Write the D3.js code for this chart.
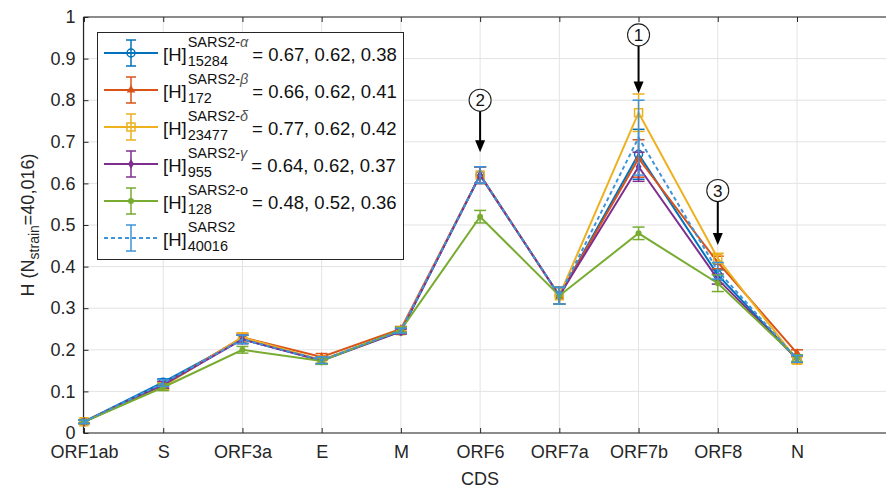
<!DOCTYPE html>
<html>
<head>
<meta charset="utf-8">
<script src="https://cdn.jsdelivr.net/npm/d3@7"></script>
<style>
  body { margin: 0; background: #fff; }
  svg { display: block; font-family: "Liberation Sans", Arial, sans-serif; }
</style>
</head>
<body>
<div id="chart"></div>
<script>
// coding sequences on the x axis
var cds = ['ORF1ab', 'S', 'ORF3a', 'E', 'M', 'ORF6', 'ORF7a', 'ORF7b', 'ORF8', 'N'];
var yTicks = [0, 0.1, 0.2, 0.3, 0.4, 0.5, 0.6, 0.7, 0.8, 0.9, 1];

// mean entropy per strain
var hAlpha   = [0.027, 0.122, 0.225, 0.175, 0.245, 0.62, 0.33, 0.67, 0.38, 0.178];
var hBeta    = [0.027, 0.115, 0.230, 0.183, 0.250, 0.62, 0.33, 0.66, 0.41, 0.192];
var hDelta   = [0.027, 0.112, 0.230, 0.175, 0.246, 0.62, 0.33, 0.77, 0.42, 0.175];
var hGamma   = [0.027, 0.116, 0.225, 0.174, 0.244, 0.62, 0.33, 0.64, 0.37, 0.178];
var hOmicron = [0.027, 0.110, 0.200, 0.173, 0.248, 0.52, 0.33, 0.48, 0.36, 0.180];
var hAll     = [0.027, 0.120, 0.225, 0.175, 0.246, 0.62, 0.33, 0.71, 0.39, 0.178];

// error bar half widths
var eAlpha   = [0.004, 0.008, 0.010, 0.008, 0.006, 0.02, 0.02, 0.060, 0.012, 0.008];
var eBeta    = [0.004, 0.008, 0.010, 0.008, 0.006, 0.02, 0.02, 0.045, 0.015, 0.008];
var eDelta   = [0.004, 0.008, 0.010, 0.008, 0.006, 0.02, 0.02, 0.045, 0.012, 0.008];
var eGamma   = [0.004, 0.008, 0.010, 0.008, 0.006, 0.02, 0.02, 0.035, 0.012, 0.008];
var eOmicron = [0.004, 0.008, 0.008, 0.008, 0.006, 0.015, 0.02, 0.015, 0.020, 0.008];
var eAll     = [0.004, 0.008, 0.010, 0.008, 0.006, 0.02, 0.02, 0.090, 0.020, 0.008];

var seriesNames = ['SARS2-α', 'SARS2-β', 'SARS2-δ', 'SARS2-γ', 'SARS2-o', 'SARS2'];
var seriesN = ['15284', '172', '23477', '955', '128', '40016'];
var seriesNote = ['= 0.67, 0.62, 0.38', '= 0.66, 0.62, 0.41', '= 0.77, 0.62, 0.42',
                  '= 0.64, 0.62, 0.37', '= 0.48, 0.52, 0.36', ''];
var seriesColor = ['#0072BD', '#D95319', '#EDB120', '#7E2F8E', '#77AC30', '#3D94DA'];
var seriesMarker = ['circle', 'triangle', 'square', 'diamond', 'dot', 'none'];

// numbered call-outs: which CDS they point at
var callouts = [
  { label: '1', cds: 'ORF7b', top: 0.957, tip: 0.816 },
  { label: '2', cds: 'ORF6', top: 0.80, tip: 0.675 },
  { label: '3', cds: 'ORF8', top: 0.583, tip: 0.452 }
];

(function() {
  var values = [hAlpha, hBeta, hDelta, hGamma, hOmicron, hAll];
  var errors = [eAlpha, eBeta, eDelta, eGamma, eOmicron, eAll];
  var series = seriesNames.map((name, i) => ({
    name: name, n: seriesN[i], note: seriesNote[i], color: seriesColor[i],
    marker: seriesMarker[i], dashed: i === 5,
    points: cds.map((c, j) => ({ cds: c, v: values[i][j], e: errors[i][j] }))
  }));

  var width = 886, height = 488;
  var pLeft = 84, pRight = 892, pTop = 17, pBottom = 433;

  var svg = d3.select('#chart').append('svg')
    .attr('width', width).attr('height', height);

  var x = d3.scalePoint().domain(cds).range([pLeft, 797]);
  var y = d3.scaleLinear().domain([0, 1]).range([pBottom, pTop]);

  // grid
  var grid = svg.append('g').attr('stroke', '#e3e3e3').attr('stroke-width', 1);
  grid.selectAll('.gx').data(cds).enter().append('line')
    .attr('x1', d => x(d)).attr('x2', d => x(d))
    .attr('y1', pTop).attr('y2', pBottom);
  grid.selectAll('.gy').data(yTicks).enter().append('line')
    .attr('x1', pLeft).attr('x2', pRight)
    .attr('y1', d => y(d)).attr('y2', d => y(d));

  // axes
  var axisColor = '#262626';
  var xAxis = svg.append('g').attr('transform', `translate(0,${pBottom})`)
    .call(d3.axisBottom(x).tickSizeInner(-5).tickSizeOuter(0).tickPadding(12));
  var xTop = svg.append('g').attr('transform', `translate(0,${pTop})`)
    .call(d3.axisTop(x).tickSizeInner(-5).tickSizeOuter(0).tickFormat(''));
  var yAxis = svg.append('g').attr('transform', `translate(${pLeft - 0.5},0)`)
    .call(d3.axisLeft(y).tickValues(yTicks).tickSizeInner(-5).tickSizeOuter(0).tickPadding(8)
      .tickFormat(d => d === 0 || d === 1 ? d3.format('d')(d) : d3.format('.1f')(d)));

  [xAxis, xTop, yAxis].forEach(g => {
    g.select('.domain').remove();
    g.selectAll('line').attr('stroke', axisColor);
    g.selectAll('text').attr('fill', axisColor).style('font-size', '18px')
      .style('font-family', '"Liberation Sans", Arial, sans-serif');
  });
  xAxis.selectAll('text').attr('dy', '0.71em');

  svg.append('line').attr('x1', pLeft - 0.5).attr('x2', pRight).attr('y1', pBottom).attr('y2', pBottom)
    .attr('stroke', axisColor).attr('stroke-width', 1.2);
  svg.append('line').attr('x1', pLeft - 0.5).attr('x2', pRight).attr('y1', pTop).attr('y2', pTop)
    .attr('stroke', axisColor).attr('stroke-width', 1.2);
  svg.append('line').attr('x1', pLeft - 0.5).attr('x2', pLeft - 0.5).attr('y1', pTop).attr('y2', pBottom)
    .attr('stroke', axisColor).attr('stroke-width', 1.2);

  // axis titles
  svg.append('text').attr('x', x('ORF6')).attr('y', 485)
    .attr('text-anchor', 'middle').attr('fill', axisColor).style('font-size', '18px').text('CDS');

  var yl = svg.append('text').attr('transform', `translate(34,${(pTop + pBottom) / 2}) rotate(-90)`)
    .attr('text-anchor', 'middle').attr('fill', axisColor).style('font-size', '18px');
  yl.append('tspan').text('H  (N');
  yl.append('tspan').attr('dy', 5).style('font-size', '14px').text('strain');
  yl.append('tspan').attr('dy', -5).text('=40,016)');

  // markers
  function drawMarker(g, type, color) {
    if (type === 'circle') {
      g.append('circle').attr('r', 4).attr('fill', 'none').attr('stroke', color).attr('stroke-width', 1.5);
    } else if (type === 'square') {
      g.append('rect').attr('x', -4).attr('y', -4).attr('width', 8).attr('height', 8)
        .attr('fill', 'none').attr('stroke', color).attr('stroke-width', 1.5);
    } else if (type === 'triangle') {
      g.append('path').attr('d', d3.symbol(d3.symbolTriangle, 32)()).attr('fill', color);
    } else if (type === 'diamond') {
      g.append('path').attr('d', d3.symbol(d3.symbolDiamond, 30)()).attr('fill', color);
    } else if (type === 'dot') {
      g.append('circle').attr('r', 3).attr('fill', color);
    }
  }

  // lines, error bars, markers
  var line = d3.line().x(d => x(d.cds)).y(d => y(d.v));
  var cap = 6;
  series.forEach(s => {
    var g = svg.append('g');
    g.append('path').datum(s.points).attr('d', line)
      .attr('fill', 'none').attr('stroke', s.color).attr('stroke-width', 2)
      .attr('stroke-dasharray', s.dashed ? '4,3' : null);
    var eb = g.selectAll('.eb').data(s.points).enter().append('g')
      .attr('stroke', s.color).attr('stroke-width', 1.5);
    eb.append('line').attr('x1', d => x(d.cds)).attr('x2', d => x(d.cds))
      .attr('y1', d => y(d.v - d.e)).attr('y2', d => y(d.v + d.e));
    eb.append('line').attr('x1', d => x(d.cds) - cap).attr('x2', d => x(d.cds) + cap)
      .attr('y1', d => y(d.v - d.e)).attr('y2', d => y(d.v - d.e));
    eb.append('line').attr('x1', d => x(d.cds) - cap).attr('x2', d => x(d.cds) + cap)
      .attr('y1', d => y(d.v + d.e)).attr('y2', d => y(d.v + d.e));
    s.points.forEach(p => {
      var m = g.append('g').attr('transform', `translate(${x(p.cds)},${y(p.v)})`);
      drawMarker(m, s.marker, s.color);
    });
  });

  // call-outs
  callouts.forEach(c => {
    var cx = x(c.cds);
    var g = svg.append('g');
    g.append('circle').attr('cx', cx).attr('cy', y(c.top)).attr('r', 11)
      .attr('fill', '#fff').attr('stroke', '#222').attr('stroke-width', 1.1);
    g.append('text').attr('x', cx).attr('y', y(c.top)).attr('dy', '0.36em')
      .attr('text-anchor', 'middle').style('font-size', '17px').attr('fill', '#111').text(c.label);
    g.append('line').attr('x1', cx).attr('x2', cx).attr('y1', y(c.top) + 11).attr('y2', y(c.tip) - 10)
      .attr('stroke', '#000').attr('stroke-width', 2);
    g.append('path')
      .attr('d', `M${cx - 5},${y(c.tip) - 12} L${cx + 5},${y(c.tip) - 12} L${cx},${y(c.tip)} Z`)
      .attr('fill', '#000');
  });

  // legend
  var lg = svg.append('g');
  lg.append('rect').attr('x', 97.5).attr('y', 32.5).attr('width', 306).attr('height', 227)
    .attr('fill', '#fff').attr('stroke', '#262626').attr('stroke-width', 1);
  var rowY = [53, 90, 127, 164, 201, 238];
  series.forEach((s, i) => {
    var ry = rowY[i];
    var g = lg.append('g');
    g.append('line').attr('x1', 104).attr('x2', 158).attr('y1', ry).attr('y2', ry)
      .attr('stroke', s.color).attr('stroke-width', 2).attr('stroke-dasharray', s.dashed ? '4,3' : null);
    var eg = g.append('g').attr('stroke', s.color).attr('stroke-width', 1.5);
    eg.append('line').attr('x1', 131).attr('x2', 131).attr('y1', ry - 13).attr('y2', ry + 13);
    eg.append('line').attr('x1', 126).attr('x2', 136).attr('y1', ry - 13).attr('y2', ry - 13);
    eg.append('line').attr('x1', 126).attr('x2', 136).attr('y1', ry + 13).attr('y2', ry + 13);
    drawMarker(g.append('g').attr('transform', `translate(131,${ry})`), s.marker, s.color);

    var base = ry + 8;
    var h = g.append('text').attr('x', 163).attr('y', base).style('font-size', '18.5px')
      .attr('fill', '#111').text('[H]');
    var hx = 163 + h.node().getComputedTextLength() + 1;
    var sup = g.append('text').attr('x', hx).attr('y', base - 14).style('font-size', '14.5px').attr('fill', '#111');
    var parts = s.name.split('-');
    if (parts.length > 1) {
      sup.append('tspan').text(parts[0] + '-');
      var greek = parts[1];
      sup.append('tspan').style('font-style', greek === 'o' ? 'normal' : 'italic')
        .attr('fill', greek === 'o' ? '#111' : '#555').text(greek);
    } else {
      sup.text(s.name);
    }
    var sub = g.append('text').attr('x', hx).attr('y', base + 5).style('font-size', '14.5px')
      .attr('fill', '#111').text(s.n);
    var w = Math.max(sup.node().getComputedTextLength(), sub.node().getComputedTextLength());
    if (s.note) {
      g.append('text').attr('x', hx + w + 4).attr('y', base).style('font-size', '18.5px')
        .attr('fill', '#111').text(s.note);
    }
  });
})();
</script>
</body>
</html>
